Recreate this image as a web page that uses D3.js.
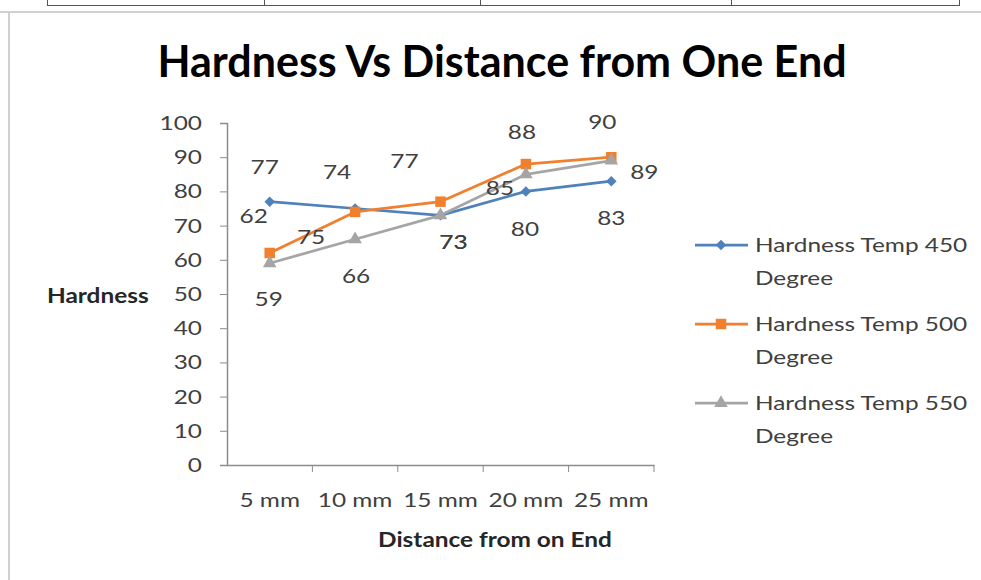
<!DOCTYPE html>
<html>
<head>
<meta charset="utf-8">
<script src="https://cdn.jsdelivr.net/npm/d3@7"></script>
<style>
  body { margin: 0; background: #fff; }
  svg { display: block; font-family: Lato, "Open Sans", sans-serif; }
</style>
</head>
<body>
<svg width="981" height="580"></svg>
<script>
const categories = ["5 mm", "10 mm", "15 mm", "20 mm", "25 mm"];
const seriesNames = ["Hardness Temp 450 Degree", "Hardness Temp 500 Degree", "Hardness Temp 550 Degree"];
const temp450 = [77, 75, 73, 80, 83];
const temp500 = [62, 74, 77, 88, 90];
const temp550 = [59, 66, 73, 85, 89];
const yTicks = [0, 10, 20, 30, 40, 50, 60, 70, 80, 90, 100];

// where Excel dropped each data label, relative to its point
const labelOffsets = [
    [[-5, -35], [-44, 29], [13, 27], [-1, 38], [0, 37]],
    [[-16, -37], [-18, -40], [-36, -41], [-4, -32], [-9, -35]],
    [[-1, 36], [1, 37], [13, 27], [-26, 14], [33, 11]]
];

const colors = ["#4f81bd", "#f07f2e", "#a5a5a5"];
const symbols = [d3.symbolDiamond2, d3.symbolSquare, d3.symbolTriangle];
const symSize = [70, 110, 80];

const svg = d3.select("svg");
const textCol = "#404040";
const axisCol = "#8c8c8c";
const K = 1.22; // the screenshot is wider than Calibri, so stretch text a bit

// stretch text horizontally but keep its anchor x where it was
function stretch(sel) {
    sel.each(function() {
        const t = d3.select(this);
        const x = +t.attr("x") || 0;
        t.attr("x", x / K).attr("transform", `scale(${K},1)`);
        t.selectAll("tspan").each(function() {
            const ts = d3.select(this);
            ts.attr("x", (+ts.attr("x") || 0) / K);
        });
    });
}

// bits of the page around the chart: table above, chart frame
const table = svg.append("g").attr("stroke", "#555").attr("fill", "none");
table.append("line").attr("x1", 47).attr("x2", 959).attr("y1", 5.5).attr("y2", 5.5);
[47, 264, 480, 731, 959].forEach(x => {
    table.append("line").attr("x1", x + 0.5).attr("x2", x + 0.5).attr("y1", 0).attr("y2", 6);
});
svg.append("line").attr("x1", 0).attr("x2", 981).attr("y1", 12).attr("y2", 12)
    .attr("stroke", "#d0d0d0").attr("stroke-width", 2);
svg.append("line").attr("x1", 9).attr("x2", 9).attr("y1", 12).attr("y2", 580)
    .attr("stroke", "#d0d0d0").attr("stroke-width", 2);

const x = d3.scaleBand().domain(categories).range([227, 654]);
const y = d3.scaleLinear().domain([0, 100]).range([465, 123]);
const cx = c => x(c) + x.bandwidth() / 2;

svg.append("text").attr("x", 502).attr("y", 77).attr("text-anchor", "middle")
    .attr("font-weight", "bold").attr("font-size", 43).attr("fill", "#000")
    .text("Hardness Vs Distance from One End");

// y axis
const yAxis = svg.append("g").attr("transform", "translate(227,0)")
    .call(d3.axisLeft(y).tickValues(yTicks).tickSize(7).tickPadding(18));
// x axis
const xAxis = svg.append("g").attr("transform", "translate(0,465)")
    .call(d3.axisBottom(x).tickSize(0).tickPadding(28));
xAxis.selectAll(".tick").append("line")
    .attr("x1", x.bandwidth() / 2).attr("x2", x.bandwidth() / 2).attr("y2", 7);
xAxis.append("line").attr("x1", 227).attr("x2", 227).attr("y2", 7);
[yAxis, xAxis].forEach(a => {
    a.select(".domain").attr("stroke", axisCol).attr("stroke-width", 1.5);
    a.selectAll(".tick line").attr("stroke", axisCol);
    a.selectAll("text").attr("font-family", "Lato").attr("font-size", 20).attr("fill", textCol);
    stretch(a.selectAll("text"));
});

svg.append("text").attr("x", 47).attr("y", 303).attr("font-weight", "bold")
    .attr("font-size", 20).attr("fill", "#262626").text("Hardness").call(stretch);
svg.append("text").attr("x", 495).attr("y", 547).attr("text-anchor", "middle")
    .attr("font-weight", "bold").attr("font-size", 20).attr("fill", "#262626")
    .text("Distance from on End").call(stretch);

const allSeries = [temp450, temp500, temp550];
const line = d3.line().x((d, i) => cx(categories[i])).y(d => y(d));

allSeries.forEach((vals, s) => {
    const g = svg.append("g");
    g.append("path").datum(vals).attr("d", line).attr("fill", "none")
        .attr("stroke", colors[s]).attr("stroke-width", 2.75).attr("stroke-linejoin", "round");
    g.selectAll("path.mk").data(vals).join("path").attr("class", "mk")
        .attr("transform", (d, i) => `translate(${cx(categories[i])},${y(d)})`)
        .attr("d", d3.symbol(symbols[s], symSize[s])).attr("fill", colors[s]);
});

allSeries.forEach((vals, s) => {
    svg.append("g").selectAll("text").data(vals).join("text")
        .attr("x", (d, i) => cx(categories[i]) + labelOffsets[s][i][0])
        .attr("y", (d, i) => y(d) + labelOffsets[s][i][1])
        .attr("dy", "0.35em").attr("text-anchor", "middle")
        .attr("font-size", 20).attr("fill", textCol).text(d => d)
        .call(stretch);
});

// legend
const leg = svg.append("g").attr("transform", "translate(695,245)");
seriesNames.forEach((name, s) => {
    const row = leg.append("g").attr("transform", `translate(0,${s * 79})`);
    row.append("line").attr("x1", 0).attr("x2", 53).attr("stroke", colors[s]).attr("stroke-width", 2.75);
    row.append("path").attr("transform", "translate(26,0)")
        .attr("d", d3.symbol(symbols[s], symSize[s])).attr("fill", colors[s]);
    const words = name.split(" ");
    const t = row.append("text").attr("x", 60).attr("font-size", 20).attr("fill", textCol);
    t.append("tspan").attr("x", 60).attr("dy", "0.35em").text(words.slice(0, 3).join(" "));
    t.append("tspan").attr("x", 60).attr("dy", 33).text(words.slice(3).join(" "));
    stretch(t);
});
</script>
</body>
</html>
